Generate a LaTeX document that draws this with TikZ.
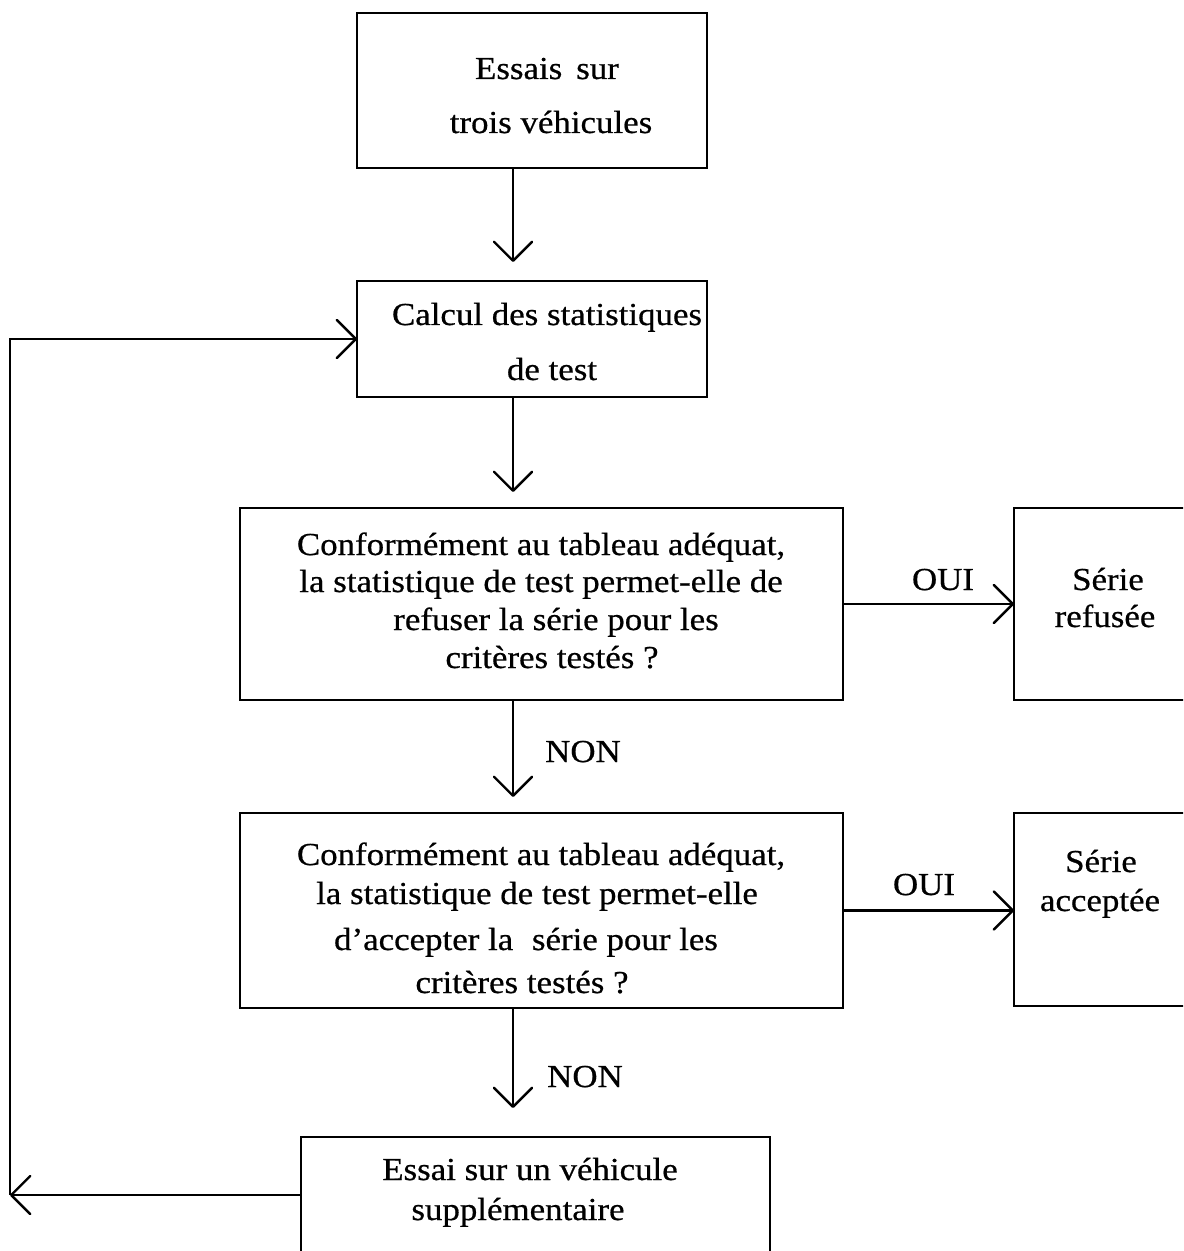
\documentclass[tikz,border=0pt]{standalone}
\usepackage{fontspec}
\setmainfont[FakeStretch=1.09,FakeBold=0.6]{Liberation Serif}
\usetikzlibrary{arrows.meta}
\begin{document}
\begin{tikzpicture}[x=0.5pt,y=-0.5pt,
  box/.style={draw,line width=1.2pt,inner sep=0pt,outer sep=0pt},
  txt/.style={anchor=base,inner sep=0pt,font=\fontsize{16pt}{19pt}\selectfont},
  arr/.style={line width=1.2pt,-{Straight Barb[length=9.5pt,width=19pt,round]}}]
\useasboundingbox (0,0) rectangle (1183,1251);
\clip (0,0) rectangle (1183,1251);
% boxes
\node[box,minimum width=175pt,minimum height=77.5pt] (b1) at (532,90.5) {};
\node[box,minimum width=175pt,minimum height=58pt] (b2) at (532,339) {};
\node[box,minimum width=301.5pt,minimum height=96pt] (b3) at (541.5,604) {};
\node[box,minimum width=301.5pt,minimum height=97.5pt] (b4) at (541.5,910.5) {};
\node[box,minimum width=100pt,minimum height=96pt] (r1) at (1114,604) {};
\node[box,minimum width=100pt,minimum height=96.5pt] (r2) at (1114,909.5) {};
\node[box,minimum width=234.5pt,minimum height=58pt] (b5) at (535.5,1195) {};
% texts
\node[txt] (t1a) at (547,79) {Essais\hspace{7pt}sur};
\node[txt] (t1b) at (551,133) {trois véhicules};
\node[txt] (t2a) at (547,325) {Calcul des statistiques};
\node[txt] (t2b) at (552,380) {de test};
\node[txt] (t3a) at (541,555) {Conformément au tableau adéquat,};
\node[txt] (t3b) at (541,592) {la statistique de test permet-elle de};
\node[txt] (t3c) at (556,630) {refuser la série pour les};
\node[txt] (t3d) at (552,668) {critères testés ?};
\node[txt] (t4a) at (541,865) {Conformément au tableau adéquat,};
\node[txt] (t4b) at (537,904) {la statistique de test permet-elle};
\node[txt] (t4c) at (526,950) {d'accepter la\hspace{5pt} série pour les};
\node[txt] (t4d) at (522,993) {critères testés ?};
\node[txt] (t5a) at (530,1180) {Essai sur un véhicule};
\node[txt] (t5b) at (518,1220) {supplémentaire};
\node[txt] (r1a) at (1108,590) {Série};
\node[txt] (r1b) at (1105,627) {refusée};
\node[txt] (r2a) at (1101,872) {Série};
\node[txt] (r2b) at (1100,911) {acceptée};
\node[txt] (oui1) at (943,590) {OUI};
\node[txt] (oui2) at (924,895) {OUI};
\node[txt] (non1) at (583,762) {NON};
\node[txt] (non2) at (585,1087) {NON};
% connectors
\coordinate (vx) at (513,0);
\coordinate (lb) at (10,1195);
\coordinate (lt) at (10,339);
\draw[arr,shorten >=9.5pt] (b1.south -| vx) -- (b2.north -| vx);
\draw[arr,shorten >=8pt] (b2.south -| vx) -- (b3.north -| vx);
\draw[arr,shorten >=8pt] (b3.south -| vx) -- (b4.north -| vx);
\draw[arr,shorten >=14.5pt] (b4.south -| vx) -- (b5.north -| vx);
\draw[arr] (b3.east) -- (r1.west);
\draw[arr] (b4.east) -- (b4.east -| r2.west);
\draw[arr] (b5.west) -- (lb);
\draw[arr] (lb) -- (lt) -- (b2.west);
\end{tikzpicture}
\end{document}
